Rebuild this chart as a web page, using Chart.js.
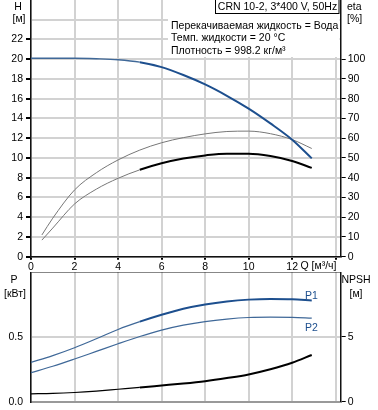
<!DOCTYPE html>
<html><head><meta charset="utf-8">
<script src="https://cdn.jsdelivr.net/npm/chart.js@4.4.0/dist/chart.umd.min.js"></script>
<style>html,body{margin:0;padding:0;background:#fff}#w{position:relative;width:378px;height:410px;background:#fff}canvas{position:absolute;left:0}</style>
</head><body><div id="w"><canvas id="top" width="378" height="272" style="top:0"></canvas><canvas id="bot" width="378" height="138" style="top:272px"></canvas></div>
<script>
// ---- data ----
const flowQ    = [0, 1, 2, 3, 4, 5, 6, 7, 8, 9, 10, 11, 12, 12.9];
const flowQEta = [0.5, 1, 2, 3, 4, 5, 6, 7, 8, 9, 10, 11, 12, 12.9];
const headH    = [20.1, 20.1, 20.1, 20.05, 19.95, 19.7, 19.2, 18.4, 17.45, 16.3, 15.0, 13.5, 11.85, 9.96];
const etaPump  = [11, 19.5, 33.8, 42.5, 49, 54, 57.7, 60.3, 62.2, 63.4, 63.6, 62.3, 59.3, 54.8];
const etaTotal = [8.4, 14.5, 26.7, 34.2, 39.7, 44, 47.3, 49.7, 51.3, 52.2, 52.2, 51, 48.5, 45];
const powerP1  = [0.303, 0.355, 0.416, 0.485, 0.557, 0.617, 0.67, 0.717, 0.75, 0.773, 0.787, 0.792, 0.79, 0.78];
const powerP2  = [0.224, 0.273, 0.329, 0.388, 0.447, 0.503, 0.552, 0.59, 0.618, 0.637, 0.649, 0.652, 0.65, 0.644];
const npshR    = [0.61, 0.64, 0.71, 0.82, 0.96, 1.1, 1.25, 1.40, 1.58, 1.82, 2.1, 2.5, 3.0, 3.6];

const qTicks    = [0, 2, 4, 6, 8, 10, 12, 14];
const hTicks    = [0, 2, 4, 6, 8, 10, 12, 14, 16, 18, 20, 22, 24, 26];
const etaTicks  = [0, 10, 20, 30, 40, 50, 60, 70, 80, 90, 100, 110, 120, 130];
const pTicks    = [0, 0.5, 1];
const npshTicks = [0, 5, 10];

const titleText = 'CRN 10-2, 3*400 V, 50Hz';
const infoLines = ['Перекачиваемая жидкость = Вода', 'Темп. жидкости = 20 °C', 'Плотность = 998.2 кг/м³'];

// ---- styling ----
const FONT = 'Liberation Sans, Arial, sans-serif';
const FS = 10.5;
Chart.defaults.font.family = FONT;
Chart.defaults.font.size = FS;
Chart.defaults.color = '#000';
const BLUE = '#1d4f8e';
const GRID = '#d2d2d2';
const NONE = 'rgba(0,0,0,0)';
const xy = (xs, ys) => xs.map((x, i) => ({x, y: ys[i]}));
const seg = (lo, hi) => c => (c.p0.parsed.x >= 4.95 ? hi : lo);
const setTicks = arr => s => { s.ticks = arr.map(v => ({value: v})); };
const fix = (prop, val) => s => { s[prop] = val; s.paddingTop = 0; s.paddingBottom = 0; s.paddingLeft = 0; s.paddingRight = 0; };

function txt(ctx, s, x, y, align, color) {
  ctx.save();
  ctx.font = FS + 'px ' + FONT;
  ctx.fillStyle = color || '#000';
  ctx.textAlign = align || 'center';
  ctx.textBaseline = 'middle';
  ctx.fillText(s, x, y);
  ctx.restore();
}

const topDeco = {
  id: 'topDeco',
  beforeDatasetsDraw(chart) {
    const ctx = chart.ctx;
    ctx.save();
    ctx.fillStyle = '#fff';
    ctx.fillRect(168, 0, 171.5, 57);
    ctx.strokeStyle = '#000';
    ctx.lineWidth = 1;
    ctx.strokeRect(215.5, -0.5, 123.5, 14);
    ctx.restore();
    txt(ctx, titleText, 277.5, 7);
    infoLines.forEach((l, i) => txt(ctx, l, 171, 26 + i * 12.5, 'left'));
  },
  afterDraw(chart) {
    const ctx = chart.ctx;
    txt(ctx, 'H', 18, 7);
    txt(ctx, '[м]', 19, 19);
    txt(ctx, 'eta', 347, 7, 'left');
    txt(ctx, '[%]', 347, 19.5, 'left');
    txt(ctx, 'Q [м³/ч]', 336.5, 266, 'right');
  }
};

const botDeco = {
  id: 'botDeco',
  afterDraw(chart) {
    const ctx = chart.ctx;
    txt(ctx, 'P', 14, 8);
    txt(ctx, '[кВт]', 15, 22);
    txt(ctx, 'NPSH', 356, 8.5);
    txt(ctx, '[м]', 356, 22);
    txt(ctx, 'P1', 305, 24, 'left', BLUE);
    txt(ctx, 'P2', 305, 56, 'left', BLUE);
  }
};

const common = {
  responsive: false,
  animation: false,
  events: [],
  layout: {padding: 0},
  plugins: {legend: {display: false}, tooltip: {enabled: false}},
  elements: {point: {radius: 0}, line: {cubicInterpolationMode: 'monotone', fill: false}}
};

new Chart(document.getElementById('top'), {
  type: 'line',
  data: {datasets: [
    {data: xy(flowQ, headH), yAxisID: 'yH', borderColor: BLUE, borderWidth: 2,
     segment: {borderWidth: seg(1.3, 2), borderColor: seg('#3f6898', BLUE)}},
    {data: xy(flowQEta, etaPump), yAxisID: 'yEta', borderColor: '#777', borderWidth: 1},
    {data: xy(flowQEta, etaTotal), yAxisID: 'yEta', borderColor: '#000', borderWidth: 2,
     segment: {borderWidth: seg(1, 2), borderColor: seg('#777', '#000')}}
  ]},
  options: Object.assign({}, common, {
    scales: {
      x: {type: 'linear', position: 'bottom', min: 0, max: 14.23,
          afterBuildTicks: setTicks(qTicks), afterFit: fix('height', 15.3),
          grid: {color: GRID, lineWidth: 2, tickColor: '#000', tickLength: 3},
          border: {color: '#111', width: 1.5},
          ticks: {padding: 1, maxRotation: 0, autoSkip: false, callback: v => (v <= 12 ? String(v) : '')}},
      yH: {type: 'linear', position: 'left', min: 0, max: 26,
          afterBuildTicks: setTicks(hTicks), afterFit: fix('width', 31),
          grid: {color: c => (c.tick && c.tick.value === 26 ? NONE : GRID), lineWidth: 2,
                 tickColor: c => (c.tick && c.tick.value > 22 ? NONE : '#000'), tickLength: 5},
          border: {color: '#111', width: 1.5},
          ticks: {padding: 3, autoSkip: false, callback: v => (v <= 22 ? String(v) : '')}},
      yEta: {type: 'linear', position: 'right', min: 0, max: 130,
          afterBuildTicks: setTicks(etaTicks), afterFit: fix('width', 37.3),
          grid: {drawOnChartArea: false, tickColor: c => (c.tick && c.tick.value > 100 ? NONE : '#000'), tickLength: 5},
          border: {color: '#111', width: 1.5},
          ticks: {padding: 2, autoSkip: false, callback: v => (v <= 100 ? String(v) : '')}}
    }
  }),
  plugins: [topDeco]
});

new Chart(document.getElementById('bot'), {
  type: 'line',
  data: {datasets: [
    {data: xy(flowQ, powerP1), yAxisID: 'yP', borderColor: BLUE, borderWidth: 2,
     segment: {borderWidth: seg(1.2, 2), borderColor: seg('#3f6898', BLUE)}},
    {data: xy(flowQ, powerP2), yAxisID: 'yP', borderColor: '#3f6898', borderWidth: 1.2},
    {data: xy(flowQ, npshR), yAxisID: 'yN', borderColor: '#000', borderWidth: 2,
     segment: {borderWidth: seg(1.2, 2)}}
  ]},
  options: Object.assign({}, common, {
    scales: {
      x: {type: 'linear', position: 'bottom', min: 0, max: 14.23,
          afterBuildTicks: setTicks(qTicks), afterFit: fix('height', 8.3),
          grid: {color: GRID, lineWidth: 2, drawTicks: false},
          border: {color: '#999', width: 2},
          ticks: {display: false}},
      yP: {type: 'linear', position: 'left', min: 0, max: 1,
          afterBuildTicks: setTicks(pTicks), afterFit: fix('width', 31),
          grid: {color: c => (c.tick && c.tick.value === 1 ? '#111' : GRID), lineWidth: c => (c.tick && c.tick.value === 1 ? 1.5 : 2),
                 tickColor: NONE, tickLength: 5},
          border: {color: '#111', width: 1.5},
          ticks: {padding: 3, autoSkip: false, callback: v => (v === 0 ? '0.0' : v === 0.5 ? '0.5' : '')}},
      yN: {type: 'linear', position: 'right', min: 0, max: 10,
          afterBuildTicks: setTicks(npshTicks), afterFit: fix('width', 37.3),
          grid: {drawOnChartArea: false, tickColor: c => (c.tick && c.tick.value > 5 ? NONE : '#000'), tickLength: 5},
          border: {color: '#111', width: 1.5},
          ticks: {padding: 2, autoSkip: false, callback: v => (v < 10 ? String(v) : '')}}
    }
  }),
  plugins: [botDeco]
});
</script>
</body></html>
